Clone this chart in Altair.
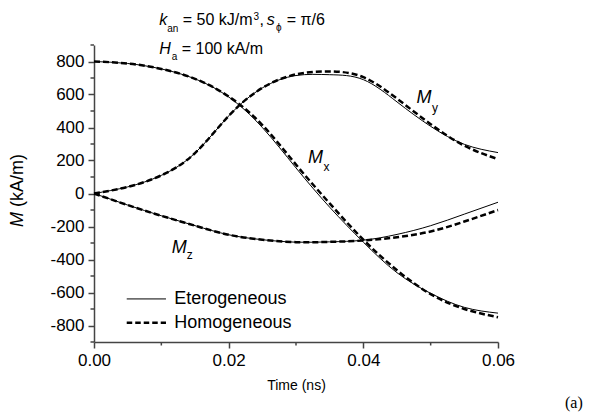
import altair as alt
import pandas as pd

# ---- data ----
t = [0.000, 0.005, 0.010, 0.015, 0.020, 0.025, 0.030, 0.035, 0.040, 0.045, 0.050, 0.055, 0.060]

mx_het = [800, 788, 755, 695, 585, 400, 155, -83, -295, -480, -605, -690, -725]
my_het = [0, 40, 110, 245, 470, 640, 715, 720, 690, 555, 407, 298, 248]
mz_het = [0, -70, -135, -195, -250, -280, -295, -293, -283, -248, -195, -125, -53]

mx_hom = [800, 788, 755, 695, 588, 415, 175, -60, -280, -465, -610, -700, -750]
my_hom = [0, 40, 110, 245, 470, 640, 722, 740, 705, 575, 420, 290, 208]
mz_hom = [0, -70, -135, -195, -250, -280, -295, -293, -285, -265, -230, -170, -100]

x_major = [0.00, 0.02, 0.04, 0.06]
x_minor = [0.01, 0.03, 0.05]
y_major = list(range(-800, 801, 200))
y_minor = list(range(-900, 901, 200))

comp_labels = [("M", "y", 0.0479, 547, 0.0502, 496),
               ("M", "x", 0.0318, 183, 0.0341, 138),
               ("M", "z", 0.01154, -359, 0.01377, -399)]

legend_names = ["Eterogeneous", "Homogeneous"]
legend_vals = [-639, -783]
legend_t = [0.00486, 0.01069, 0.01193]

FONT = "Liberation Sans"
AXC = "#444"

rows = []
for name, series in [("Mx", mx_het), ("My", my_het), ("Mz", mz_het)]:
    for ti, v in zip(t, series):
        rows.append({"t": ti, "v": v, "comp": name, "model": "het"})
for name, series in [("Mx", mx_hom), ("My", my_hom), ("Mz", mz_hom)]:
    for ti, v in zip(t, series):
        rows.append({"t": ti, "v": v, "comp": name, "model": "hom"})
df = pd.DataFrame(rows)

xscale = alt.Scale(domain=[0, 0.06], nice=False, zero=False)
yscale = alt.Scale(domain=[-900, 900], nice=False, zero=False)
xaxis = alt.Axis(
    values=x_major, grid=False, title="Time (ns)", labelOverlap=False, labelFlush=False,
    format=".2f", tickSize=6,
    titleFont=FONT, titleFontSize=14, titleFontWeight="normal", titlePadding=10,
    titleColor="black")
yaxis = alt.Axis(
    values=y_major, grid=False, title=None, labelOverlap=False, labelFlush=False,
    labelExpr="toString(datum.value)", tickSize=6)


def X():
    return alt.X("t:Q", scale=xscale, axis=xaxis)


def Y():
    return alt.Y("v:Q", scale=yscale, axis=yaxis)


het = alt.Chart(df[df.model == "het"]).mark_line(
    color="black", strokeWidth=1, interpolate="natural").encode(
    x=X(), y=Y(), detail="comp:N")
hom = alt.Chart(df[df.model == "hom"]).mark_line(
    color="black", strokeWidth=2.5, strokeDash=[6, 3], interpolate="natural").encode(
    x=X(), y=Y(), detail="comp:N")

# minor ticks
ymin_ticks = alt.Chart(pd.DataFrame({"v": y_minor})).mark_rule(
    color=AXC, strokeWidth=1.5).encode(y=Y(), x=alt.value(-3.5), x2=alt.value(0))
xmin_ticks = alt.Chart(pd.DataFrame({"t": x_minor})).mark_rule(
    color=AXC, strokeWidth=1.5).encode(x=X(), y=alt.value(297), y2=alt.value(300.5))

# component labels
lab_df = pd.DataFrame([{"t": a, "v": b, "txt": m} for m, s, a, b, c, d in comp_labels])
sub_df = pd.DataFrame([{"t": c, "v": d, "txt": s} for m, s, a, b, c, d in comp_labels])
labs = alt.Chart(lab_df).mark_text(font=FONT, fontSize=18, fontStyle="italic",
                                   align="left", baseline="alphabetic").encode(
    x=X(), y=Y(), text="txt:N")
subs = alt.Chart(sub_df).mark_text(font=FONT, fontSize=12,
                                   align="left", baseline="alphabetic").encode(
    x=X(), y=Y(), text="txt:N")

# legend
leg_line = pd.DataFrame([
    {"t": legend_t[0], "v": legend_vals[0], "m": "het"},
    {"t": legend_t[1], "v": legend_vals[0], "m": "het"},
    {"t": legend_t[0], "v": legend_vals[1], "m": "hom"},
    {"t": legend_t[1], "v": legend_vals[1], "m": "hom"},
])
leg_het = alt.Chart(leg_line[leg_line.m == "het"]).mark_line(
    color="black", strokeWidth=1).encode(x=X(), y=Y())
leg_hom = alt.Chart(leg_line[leg_line.m == "hom"]).mark_line(
    color="black", strokeWidth=2.5, strokeDash=[5.5, 3]).encode(x=X(), y=Y())
leg_txt = alt.Chart(pd.DataFrame({"t": [legend_t[2]] * 2, "v": legend_vals, "txt": legend_names})).mark_text(
    font=FONT, fontSize=18, align="left", baseline="middle").encode(
    x=X(), y=Y(), text="txt:N")


def txt(s, x, y, size=16, style="normal", angle=0, font=FONT):
    kw = dict(font=font, fontSize=size, fontStyle=style, align="left",
              baseline="alphabetic", color="black", text=s)
    if angle:
        kw["angle"] = angle
    return alt.Chart(pd.DataFrame({"a": [0]})).mark_text(**kw).encode(
        x=alt.value(x), y=alt.value(y))


annots = [
    txt("k", 65.3, -20, 16, "italic"),
    txt("an", 73.2, -13.5, 10),
    txt("= 50 kJ/m", 88.7, -20, 16),
    txt("3", 159.5, -25, 10),
    txt(",", 165.5, -20, 16),
    txt("s", 172.7, -20, 16, "italic"),
    txt("\u03d5", 182, -14, 10),
    txt("= \u03c0/6", 192.7, -20, 16),
    txt("H", 65.3, 9.3, 16, "italic"),
    txt("a", 77.7, 15, 10),
    txt("= 100 kA/m", 87.7, 9.3, 16),
    txt("M", -71, 182, 18, "italic", angle=270),
    txt("(kA/m)", -71, 162, 18, angle=270),
    txt("(a)", 471, 363, 16, font="Liberation Serif"),
]

chart = alt.layer(het, hom, ymin_ticks, xmin_ticks, labs, subs,
                  leg_het, leg_hom, leg_txt, *annots).properties(
    width=404, height=297,
    autosize=alt.AutoSizeParams(type="none"),
    padding={"left": 86, "top": 37, "right": 93, "bottom": 70},
).configure_view(stroke=None).configure_axis(
    domainColor=AXC, domainWidth=1.5, tickColor=AXC, tickWidth=1.5,
    labelColor="black", labelFont=FONT, labelFontSize=17, labelPadding=4,
)

chart.save("out.html", embed_options={"renderer": "svg", "actions": False})
